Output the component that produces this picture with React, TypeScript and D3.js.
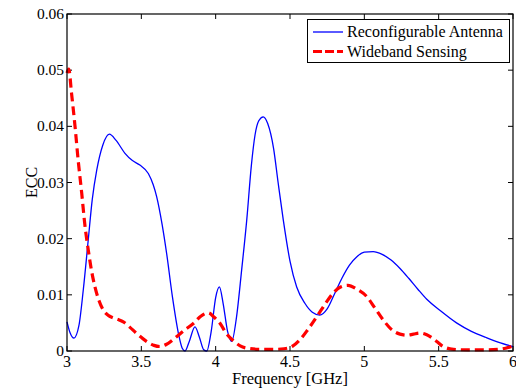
import * as d3 from "d3";
import { useEffect, useRef } from "react";

// Reconfigurable Antenna (solid blue)
const antennaFreq = [
  3.0, 3.02, 3.047, 3.08, 3.11, 3.143, 3.17, 3.2, 3.24, 3.285, 3.33, 3.39, 3.44, 3.49, 3.547, 3.58,
  3.603, 3.64, 3.67, 3.71, 3.749, 3.775, 3.794, 3.82, 3.861, 3.89, 3.92, 3.94, 3.97, 4.0, 4.025,
  4.05, 4.08, 4.108, 4.14, 4.175, 4.209, 4.24, 4.265, 4.29, 4.32, 4.35, 4.39, 4.42, 4.455, 4.5,
  4.545, 4.6, 4.65, 4.7, 4.75, 4.8, 4.85, 4.9, 4.95, 5.0, 5.06, 5.12, 5.18, 5.24, 5.3, 5.36, 5.42,
  5.51, 5.62, 5.72, 5.82, 5.9, 6.0,
];
const antennaEcc = [
  0.0052, 0.0033, 0.0023, 0.0045, 0.011, 0.0198, 0.027, 0.0322, 0.0366, 0.0386, 0.0375, 0.0352,
  0.0339, 0.0331, 0.0316, 0.0296, 0.0275, 0.0225, 0.0174, 0.0095, 0.0032, 0.0005, 0.0, 0.0015,
  0.0043, 0.0025, 0.0002, 0.0, 0.0035, 0.0095, 0.0114, 0.0085, 0.0035, 0.0017, 0.006, 0.0145,
  0.0233, 0.033, 0.0385, 0.041, 0.0417, 0.0405, 0.036, 0.03, 0.0233, 0.016, 0.0114, 0.0085,
  0.0069, 0.0064, 0.0075, 0.0102, 0.013, 0.0153, 0.0168, 0.0176, 0.0177, 0.0172, 0.0162, 0.0147,
  0.0129, 0.011, 0.0092, 0.0072, 0.005, 0.0035, 0.0024, 0.0016, 0.0008,
];

// Wideband Sensing (dashed red)
const sensingFreq = [
  3.0, 3.012, 3.03, 3.054, 3.075, 3.099, 3.12, 3.143, 3.165, 3.188, 3.215, 3.244, 3.28, 3.311,
  3.345, 3.379, 3.42, 3.469, 3.51, 3.547, 3.585, 3.625, 3.67, 3.726, 3.79, 3.85, 3.9, 3.95, 3.99,
  4.03, 4.07, 4.12, 4.165, 4.21, 4.3, 4.4, 4.46, 4.52, 4.567, 4.62, 4.68, 4.74, 4.79, 4.84, 4.89,
  4.95, 5.016, 5.07, 5.128, 5.18, 5.24, 5.29, 5.33, 5.374, 5.42, 5.487, 5.53, 5.6, 5.7, 5.8, 5.9,
  5.95, 6.0,
];
const sensingEcc = [
  0.0495, 0.0502, 0.046, 0.04, 0.034, 0.0281, 0.0225, 0.018, 0.0143, 0.0114, 0.009, 0.0073,
  0.0063, 0.0059, 0.0056, 0.0052, 0.0043, 0.0031, 0.0022, 0.0015, 0.001, 0.0008, 0.0012, 0.0023,
  0.0037, 0.0049, 0.0062, 0.0068, 0.006, 0.0049, 0.0032, 0.0018, 0.0009, 0.0005, 0.0003, 0.0003,
  0.0004, 0.0009, 0.002, 0.0038, 0.0061, 0.0085, 0.0103, 0.0114, 0.0117, 0.011, 0.0097, 0.0077,
  0.0055, 0.0039, 0.003, 0.0028, 0.003, 0.0032, 0.0029, 0.0017, 0.0008, 0.0003, 0.0002, 0.0002,
  0.0003, 0.0005, 0.0009,
];

const xTicks = [3, 3.5, 4, 4.5, 5, 5.5, 6];
const yTicks = [0, 0.01, 0.02, 0.03, 0.04, 0.05, 0.06];
const seriesNames = ["Reconfigurable Antenna", "Wideband Sensing"];

const FONT = "Liberation Serif, serif";

export default function App() {
  const ref = useRef<SVGSVGElement | null>(null);

  useEffect(() => {
    if (!ref.current) return;
    const svg = d3.select(ref.current);
    svg.selectAll("*").remove();

    const left = 67,
      right = 513,
      top = 14,
      bottom = 351;

    const x = d3.scaleLinear().domain([3, 6]).range([left, right]);
    const y = d3.scaleLinear().domain([0, 0.06]).range([bottom, top]);

    svg.append("rect").attr("width", 516).attr("height", 391).attr("fill", "#fff");

    // ticks (inward, all four sides)
    const tl = 5;
    const g = svg.append("g").attr("stroke", "#000").attr("stroke-width", 1);
    xTicks.forEach((t) => {
      g.append("line").attr("x1", x(t)).attr("x2", x(t)).attr("y1", bottom).attr("y2", bottom - tl);
      g.append("line").attr("x1", x(t)).attr("x2", x(t)).attr("y1", top).attr("y2", top + tl);
    });
    yTicks.forEach((t) => {
      g.append("line").attr("x1", left).attr("x2", left + tl).attr("y1", y(t)).attr("y2", y(t));
      g.append("line").attr("x1", right).attr("x2", right - tl).attr("y1", y(t)).attr("y2", y(t));
    });

    // tick labels
    svg
      .append("g")
      .attr("font-family", FONT)
      .attr("font-size", 16)
      .selectAll("text")
      .data(xTicks)
      .enter()
      .append("text")
      .attr("x", (d) => x(d))
      .attr("y", 367)
      .attr("text-anchor", "middle")
      .text((d) => d3.format("")(d));

    svg
      .append("g")
      .attr("font-family", FONT)
      .attr("font-size", 15.5)
      .selectAll("text")
      .data(yTicks)
      .enter()
      .append("text")
      .attr("x", 64)
      .attr("y", (d) => y(d) + 5)
      .attr("text-anchor", "end")
      .text((d) => (d === 0 ? "0" : d.toFixed(2)));

    // axis labels
    svg
      .append("text")
      .attr("x", x(4.5))
      .attr("y", 384)
      .attr("text-anchor", "middle")
      .attr("font-family", FONT)
      .attr("font-size", 16.5)
      .text("Frequency [GHz]");

    svg
      .append("text")
      .attr("transform", `translate(37,${(top + bottom) / 2}) rotate(-90)`)
      .attr("text-anchor", "middle")
      .attr("font-family", FONT)
      .attr("font-size", 16)
      .text("ECC");

    // curves
    const line = d3
      .line<[number, number]>()
      .x((d) => x(d[0]))
      .y((d) => y(d[1]))
      .curve(d3.curveMonotoneX);

    const antenna = antennaFreq.map((f, i) => [f, antennaEcc[i]] as [number, number]);
    const sensing = sensingFreq.map((f, i) => [f, sensingEcc[i]] as [number, number]);

    svg
      .append("path")
      .attr("d", line(antenna))
      .attr("fill", "none")
      .attr("stroke", "#0000ff")
      .attr("stroke-width", 1.3);

    svg
      .append("path")
      .attr("d", line(sensing))
      .attr("fill", "none")
      .attr("stroke", "#ff0000")
      .attr("stroke-width", 3.2)
      .attr("stroke-dasharray", "9,5");

    // box
    svg
      .append("rect")
      .attr("x", left)
      .attr("y", top)
      .attr("width", right - left)
      .attr("height", bottom - top)
      .attr("fill", "none")
      .attr("stroke", "#000")
      .attr("stroke-width", 1.2);

    // legend
    const lg = svg.append("g");
    lg.append("rect")
      .attr("x", 307.5)
      .attr("y", 19.5)
      .attr("width", 202)
      .attr("height", 43)
      .attr("fill", "#fff")
      .attr("stroke", "#000")
      .attr("stroke-width", 1);

    const legendStyles = [
      { color: "#0000ff", width: 1.3, dash: null as string | null },
      { color: "#ff0000", width: 3.2, dash: "9,3" },
    ];
    seriesNames.forEach((name, i) => {
      const cy = 32 + i * 19.5;
      const l = lg
        .append("line")
        .attr("x1", 313)
        .attr("x2", 343)
        .attr("y1", cy)
        .attr("y2", cy)
        .attr("stroke", legendStyles[i].color)
        .attr("stroke-width", legendStyles[i].width);
      if (legendStyles[i].dash) l.attr("stroke-dasharray", legendStyles[i].dash!);
      lg.append("text")
        .attr("x", 347)
        .attr("y", cy + 5)
        .attr("font-family", FONT)
        .attr("font-size", 16)
        .text(name);
    });
  }, []);

  return (
    <svg
      ref={ref}
      width={516}
      height={391}
      style={{ position: "absolute", left: 0, top: 0 }}
    ></svg>
  );
}
